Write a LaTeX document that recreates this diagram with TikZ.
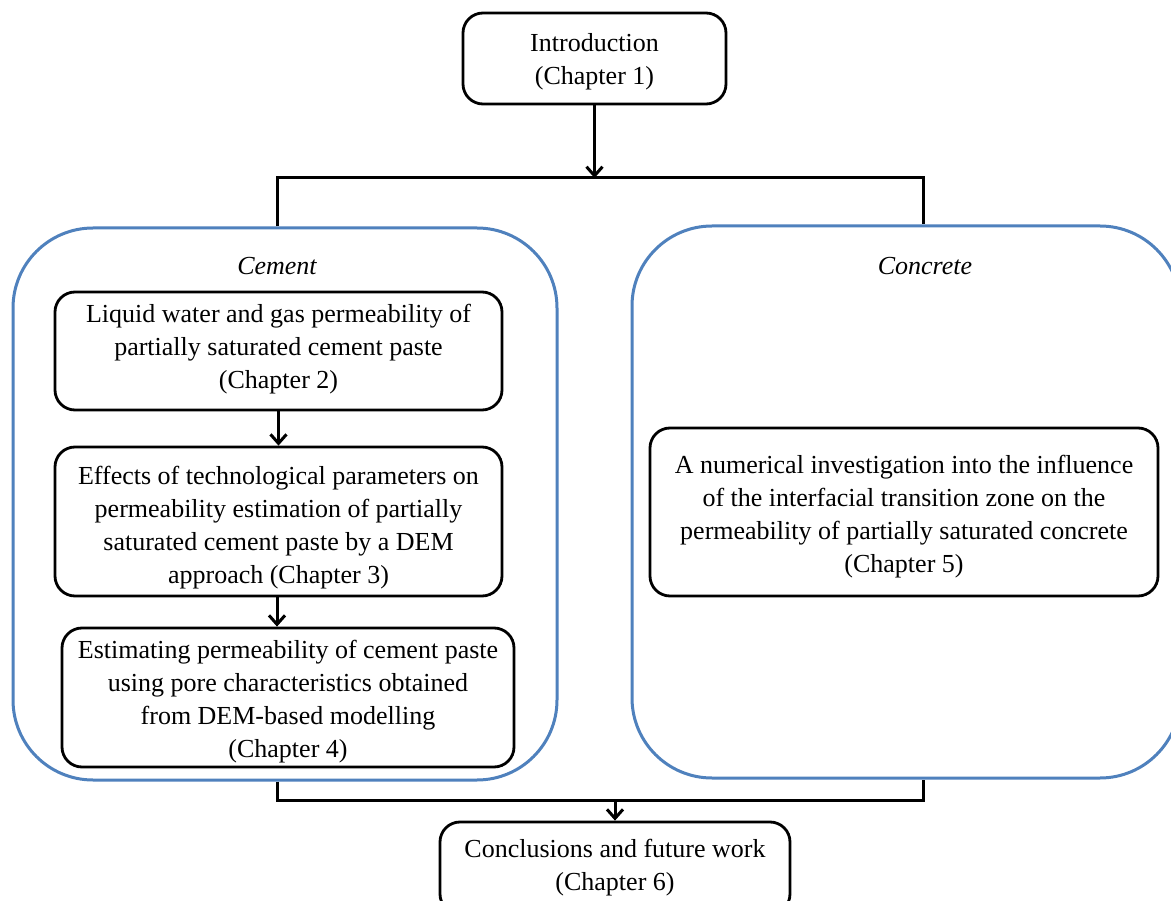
\documentclass[tikz,border=0pt]{standalone}
\usepackage{fontspec}
\setmainfont{Liberation Serif}
\usetikzlibrary{arrows.meta}
\definecolor{grpblue}{RGB}{79,129,189}
\tikzset{
  chap/.style={draw=black, line width=2.8pt, rounded corners=20pt, inner sep=0pt},
  txt/.style={align=center, inner sep=0pt, font=\fontsize{26}{33}\selectfont},
  grp/.style={draw=grpblue, line width=3pt, rounded corners=80pt, inner sep=0pt},
  grplbl/.style={font=\fontsize{26}{33}\selectfont\itshape, inner sep=0pt},
  conn/.style={draw=black, line width=3pt},
  arr/.style={conn, -{Straight Barb[length=9pt,width=16pt]}}
}
\begin{document}
\begin{tikzpicture}[x=1pt,y=-1pt]
\useasboundingbox (0,0) rectangle (1171,901);
\clip (0,0) rectangle (1171,901);
\fill[white] (0,0) rectangle (1171,901);
% groups
\node[grp, minimum width=544pt, minimum height=552pt] (cement) at (285,504) {};
\node[grp, minimum width=548pt, minimum height=552pt] (concrete) at (906,502) {};
\node[grplbl] (cementlbl) at (277,266) {Cement};
\node[grplbl] (concretelbl) at (925,266) {Concrete};
% chapter boxes
\node[chap, minimum width=263pt, minimum height=91pt] (intro) at (594.5,58.5) {};
\node[txt] (introt) at (594.5,61.5) {Introduction\\(Chapter 1)};
\node[chap, minimum width=447pt, minimum height=118pt] (c2) at (278.5,351) {};
\node[txt] (c2t) at (278.5,349) {Liquid water and gas permeability of\\partially saturated cement paste\\(Chapter 2)};
\node[chap, minimum width=447pt, minimum height=149pt] (c3) at (278.5,521.5) {};
\node[txt] (c3t) at (278.5,528) {Effects of technological parameters on\\permeability estimation of partially\\saturated cement paste by a DEM\\approach (Chapter 3)};
\node[chap, minimum width=452pt, minimum height=139pt] (c4) at (288,697.5) {};
\node[txt] (c4t) at (288,702) {Estimating permeability of cement paste\\using pore characteristics obtained\\from DEM-based modelling\\(Chapter 4)};
\node[chap, minimum width=508pt, minimum height=168pt] (c5) at (904,512) {};
\node[txt] (c5t) at (904,517) {A numerical investigation into the influence\\of the interfacial transition zone on the\\permeability of partially saturated concrete\\(Chapter 5)};
\node[chap, minimum width=350pt, minimum height=92pt] (c6) at (615,868) {};
\node[txt] (c6t) at (615,868) {Conclusions and future work\\(Chapter 6)};
% junction coordinates
\coordinate (tl) at (277,178);
\coordinate (tr) at (923,178);
\coordinate (bl) at (277,800);
\coordinate (br) at (923,800);
% connectors
\draw[arr] (intro.south) -- (intro.south |- tl);
\draw[conn] (tl |- cement.north) -- (tl) -- (tr) -- (tr |- concrete.north);
\draw[arr] (c2.south) -- (c2.south |- c3.north);
\draw[arr] (c3.south -| tl) -- (c4.north -| tl);
\draw[conn] (bl |- cement.south) -- (bl) -- (br) -- (br |- concrete.south);
\draw[arr] (c6.north |- bl) -- (c6.north);
\end{tikzpicture}
\end{document}
